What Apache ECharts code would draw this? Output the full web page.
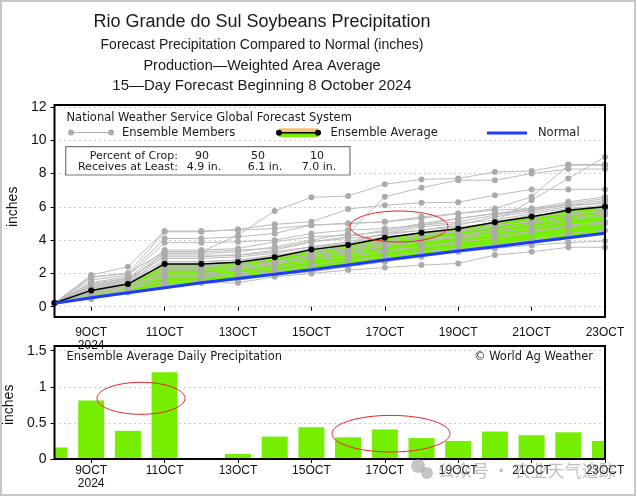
<!DOCTYPE html>
<html><head><meta charset="utf-8">
<script src="https://cdn.jsdelivr.net/npm/echarts/dist/echarts.min.js"></script>
<style>html,body{margin:0;padding:0;background:#fff}#c{width:637px;height:497px}</style>
</head><body><div id="c"></div>
<script>
// ---- data ----
const days = [8,9,10,11,12,13,14,15,16,17,18,19,20,21,22,23];
const tickDays = [9,11,13,15,17,19,21,23];
const ensembleAvg = [0.22,0.98,1.36,2.57,2.57,2.67,2.97,3.43,3.71,4.14,4.45,4.69,5.07,5.40,5.79,6.01];
const normal = [0.20,0.54,0.84,1.14,1.44,1.70,1.95,2.22,2.50,2.80,3.07,3.35,3.60,3.87,4.15,4.41];
const dailyAvg = [0.16,0.81,0.39,1.20,0.01,0.07,0.31,0.44,0.30,0.41,0.29,0.25,0.38,0.33,0.37,0.25];
const members = [
  [0.22,1.80,2.00,3.30,3.30,4.30,5.75,6.57,6.65,7.36,7.65,7.70,8.10,8.15,8.55,8.55],
  [0.22,1.20,1.60,3.20,3.20,3.30,3.60,4.00,4.40,6.60,7.15,7.60,7.60,8.00,8.27,8.27],
  [0.22,1.75,2.00,4.50,4.50,4.65,4.95,5.10,5.87,6.10,6.25,6.27,6.70,7.05,7.05,7.05],
  [0.22,1.90,2.40,4.55,4.55,4.60,4.70,4.90,5.00,5.10,5.30,5.60,5.90,6.60,8.50,8.50],
  [0.22,0.60,0.90,2.30,2.30,2.40,2.60,2.90,3.20,3.40,3.60,3.80,5.10,6.40,7.70,9.00],
  [0.22,1.60,1.90,4.10,4.10,4.20,4.40,4.90,5.00,5.10,5.40,5.60,5.80,5.90,6.10,6.20],
  [0.22,1.45,1.80,3.85,3.85,3.90,4.00,4.40,4.60,4.70,4.90,5.10,5.50,5.80,6.10,6.40],
  [0.22,1.30,1.70,3.40,3.40,3.50,3.90,4.20,4.30,4.50,4.90,5.30,5.60,5.90,6.30,6.60],
  [0.22,1.10,1.50,3.30,3.30,3.40,3.50,3.90,4.10,4.30,4.60,4.90,5.40,5.70,6.00,6.30],
  [0.22,1.00,1.40,3.10,3.10,3.10,3.30,3.60,3.90,4.40,4.60,4.80,5.00,5.40,5.80,5.90],
  [0.22,0.90,1.30,2.90,2.90,3.00,3.20,3.60,3.80,4.20,4.40,4.50,4.90,5.10,5.50,5.70],
  [0.22,0.80,1.20,2.70,2.70,2.80,3.10,3.40,3.60,3.90,4.20,4.60,5.10,5.50,5.60,5.80],
  [0.22,1.20,1.50,2.50,2.50,2.60,2.90,3.30,3.60,4.00,4.30,4.50,4.80,5.20,5.90,6.10],
  [0.22,0.70,1.10,2.20,2.20,2.30,2.60,3.20,3.40,3.70,4.00,4.30,4.60,5.00,5.30,5.60],
  [0.22,1.00,1.30,2.00,2.00,2.20,2.50,3.00,3.30,3.60,3.90,4.20,4.50,4.70,5.20,5.50],
  [0.22,0.90,1.20,1.90,1.90,2.00,2.30,2.80,3.00,3.30,3.60,3.90,4.10,4.50,4.90,5.10],
  [0.22,0.60,1.00,1.80,1.80,1.90,2.10,2.50,2.80,3.00,3.30,3.50,3.70,4.00,4.40,4.60],
  [0.22,0.45,0.85,1.30,1.42,1.44,1.80,2.00,2.20,2.35,2.50,2.60,3.10,3.30,3.57,3.57],
  [0.22,0.80,1.10,1.50,1.55,1.60,1.90,2.10,2.40,2.70,3.00,3.30,3.50,3.70,3.85,3.95],
  [0.22,1.30,1.60,2.70,2.70,2.80,3.00,3.50,3.80,4.40,4.80,5.00,5.20,5.60,5.90,6.00],
  [0.22,1.10,1.40,2.40,2.40,2.50,2.70,3.10,3.50,3.80,4.00,4.20,4.30,4.50,4.80,5.00],
  [0.22,1.40,1.70,3.00,3.00,3.10,3.40,3.90,4.20,4.60,5.00,5.30,5.60,5.80,6.20,6.50]
];

// ---- chart ----
const GREEN = '#76EE00', GREY = '#ababab', BLUE = '#1e3cff';
const FONT = "'Liberation Sans', Arial, sans-serif";
const FONT2 = "'DejaVu Sans', sans-serif";
const pair = arr => days.map((d, i) => [d, arr[i]]);

const chart = echarts.init(document.getElementById('c'), null, {renderer: 'canvas'});

const xLabelFmt = v => v === 9 ? '9OCT\n2024' : v + 'OCT';
function xAxis(gi, offset, margin) {
  return {
    gridIndex: gi, type: 'value', min: 8, max: 23, offset: offset,
    axisLine: {show: false},
    axisTick: {show: true, customValues: tickDays, length: 4, inside: false, lineStyle: {color: '#000', width: 1}},
    axisLabel: {customValues: tickDays, formatter: xLabelFmt, fontSize: 12, lineHeight: 13,
      fontFamily: "'Liberation Sans Narrow', 'Liberation Sans', sans-serif", color: '#111', margin: margin},
    splitLine: {show: false}
  };
}
function yAxis(gi, max, interval) {
  return {
    gridIndex: gi, type: 'value', min: 0, max: max, interval: interval,
    name: 'inches', nameLocation: 'middle', nameGap: 21, nameRotate: 90,
    nameTextStyle: {fontSize: 14, fontFamily: FONT, color: '#111'},
    axisLine: {show: false},
    axisTick: {show: true, length: 4, inside: false, lineStyle: {color: '#000', width: 1}},
    axisLabel: {fontSize: 14, fontFamily: FONT, color: '#111', margin: 8},
    splitLine: {show: true, lineStyle: {color: '#9a9a9a', type: [1, 4], width: 1}}
  };
}

// band segments between normal and ensemble average
const bandData = days.slice(0, -1).map((d, i) =>
  [d, ensembleAvg[i], normal[i], days[i + 1], ensembleAvg[i + 1], normal[i + 1]]);

const series = [];
series.push({type: 'custom', xAxisIndex: 0, yAxisIndex: 0, data: bandData, silent: true, z: 1,
  renderItem: (params, api) => {
    const p1 = api.coord([api.value(0), api.value(1)]);
    const p2 = api.coord([api.value(3), api.value(4)]);
    const p3 = api.coord([api.value(3), api.value(5)]);
    const p4 = api.coord([api.value(0), api.value(2)]);
    return {type: 'polygon', shape: {points: [p1, p2, p3, p4]},
      style: {fill: GREEN, stroke: GREEN, lineWidth: 0.6}};
  }
});
members.forEach(m => series.push({type: 'line', xAxisIndex: 0, yAxisIndex: 0, data: pair(m),
  symbol: 'circle', symbolSize: 6, showSymbol: true,
  lineStyle: {color: '#bcbcbc', width: 1}, itemStyle: {color: GREY}, silent: true, z: 2}));
series.push({type: 'line', xAxisIndex: 0, yAxisIndex: 0, data: pair(ensembleAvg),
  symbol: 'circle', symbolSize: 6, lineStyle: {color: '#000', width: 1.5}, itemStyle: {color: '#000'}, z: 4});
series.push({type: 'line', xAxisIndex: 0, yAxisIndex: 0, data: pair(normal),
  symbol: 'none', lineStyle: {color: BLUE, width: 3}, z: 5});
// daily bars, drawn via the axis scales and clipped to the plot area
series.push({type: 'custom', xAxisIndex: 1, yAxisIndex: 1, data: pair(dailyAvg), z: 2,
  renderItem: (params, api) => {
    const cs = params.coordSys;
    const top = api.coord([api.value(0), api.value(1)]);
    const base = api.coord([api.value(0), 0]);
    const half = 13;
    const x0 = Math.max(cs.x, top[0] - half);
    const x1 = Math.min(cs.x + cs.width, top[0] + half);
    return {type: 'rect', shape: {x: x0, y: top[1], width: Math.max(0, x1 - x0), height: base[1] - top[1]},
      style: {fill: GREEN}};
  }
});

const T = (x, y, text, size, opts) => Object.assign({type: 'text', x: x, y: y, z: 100,
  style: Object.assign({text: text, fontSize: size, fontFamily: FONT, fill: '#1a1a1a',
    textAlign: 'left', textVerticalAlign: 'middle'}, (opts || {}))});

const graphics = [
  {type: 'rect', shape: {x: 1, y: 1, width: 634, height: 494}, style: {fill: 'none', stroke: '#c8c8c8', lineWidth: 2}, z: 100},
  T(262, 22, 'Rio Grande do Sul Soybeans Precipitation', 18, {textAlign: 'center'}),
  T(262, 45, 'Forecast Precipitation Compared to Normal (inches)', 14, {textAlign: 'center'}),
  T(262, 66, 'Production\u2014Weighted Area Average', 14.5, {textAlign: 'center'}),
  T(262, 86, '15\u2014Day Forecast Beginning 8 October 2024', 15, {textAlign: 'center'}),
  {type: 'rect', shape: {x: 54.5, y: 105, width: 550.5, height: 212}, style: {fill: 'none', stroke: '#000', lineWidth: 2}, z: 90},
  {type: 'rect', shape: {x: 54.5, y: 346, width: 550.5, height: 113}, style: {fill: 'none', stroke: '#000', lineWidth: 2}, z: 90},
  T(66.5, 118, 'National Weather Service Global Forecast System', 11.5, {fontFamily: FONT2}),
  {type: 'line', shape: {x1: 70, y1: 132.5, x2: 112, y2: 132.5}, style: {stroke: '#b0b0b0', lineWidth: 1}, z: 100},
  {type: 'circle', shape: {cx: 71, cy: 132.5, r: 3}, style: {fill: GREY}, z: 101},
  {type: 'circle', shape: {cx: 111, cy: 132.5, r: 3}, style: {fill: GREY}, z: 101},
  T(122, 133, 'Ensemble Members', 11.5, {fontFamily: FONT2}),
  {type: 'rect', shape: {x: 279, y: 128.3, width: 39, height: 4.4}, style: {fill: '#f5bf74'}, z: 100},
  {type: 'rect', shape: {x: 279, y: 132.7, width: 39, height: 4.2}, style: {fill: GREEN}, z: 100},
  {type: 'line', shape: {x1: 279, y1: 132.7, x2: 318, y2: 132.7}, style: {stroke: '#000', lineWidth: 1.5}, z: 101},
  {type: 'circle', shape: {cx: 279, cy: 132.7, r: 3}, style: {fill: '#000'}, z: 102},
  {type: 'circle', shape: {cx: 318, cy: 132.7, r: 3}, style: {fill: '#000'}, z: 102},
  T(330.5, 133, 'Ensemble Average', 11.5, {fontFamily: FONT2}),
  {type: 'line', shape: {x1: 487, y1: 133, x2: 527, y2: 133}, style: {stroke: BLUE, lineWidth: 3}, z: 100},
  T(538, 133, 'Normal', 11.5, {fontFamily: FONT2}),
  {type: 'rect', shape: {x: 65.7, y: 146.7, width: 284.3, height: 28.3}, style: {fill: '#fff', stroke: '#777', lineWidth: 1.2}, z: 95},
  T(178, 156, 'Percent of Crop:', 11, {fontFamily: FONT2, textAlign: 'right'}),
  T(202, 156, '90', 11, {fontFamily: FONT2, textAlign: 'center'}),
  T(258, 156, '50', 11, {fontFamily: FONT2, textAlign: 'center'}),
  T(317, 156, '10', 11, {fontFamily: FONT2, textAlign: 'center'}),
  T(178, 167, 'Receives at Least:', 11, {fontFamily: FONT2, textAlign: 'right'}),
  T(204, 167, '4.9 in.', 11, {fontFamily: FONT2, textAlign: 'center'}),
  T(265, 167, '6.1 in.', 11, {fontFamily: FONT2, textAlign: 'center'}),
  T(319, 167, '7.0 in.', 11, {fontFamily: FONT2, textAlign: 'center'}),
  T(66.5, 357.5, 'Ensemble Average Daily Precipitation', 11.5, {fontFamily: FONT2}),
  T(593, 357, '\u00A9 World Ag Weather', 11.5, {fontFamily: FONT2, textAlign: 'right'}),
  {type: 'ellipse', shape: {cx: 399, cy: 226.5, rx: 49, ry: 15.5}, style: {fill: 'none', stroke: '#e8262a', lineWidth: 1}, z: 110},
  {type: 'ellipse', shape: {cx: 141, cy: 398.3, rx: 44, ry: 16}, style: {fill: 'none', stroke: '#e8262a', lineWidth: 1}, z: 110},
  {type: 'ellipse', shape: {cx: 391, cy: 433.7, rx: 59, ry: 18.3}, style: {fill: 'none', stroke: '#e8262a', lineWidth: 1}, z: 110},
  {type: 'circle', shape: {cx: 418, cy: 466, r: 7}, style: {fill: 'rgba(150,150,150,0.55)'}, z: 120},
  {type: 'circle', shape: {cx: 427, cy: 473, r: 6}, style: {fill: 'rgba(150,150,150,0.55)'}, z: 120},
  T(438, 471, '\u516C\u4F17\u53F7 \u00B7 \u519C\u4E1A\u5929\u6C14\u8FFD\u8E2A', 17,
    {fontFamily: "'Noto Sans CJK SC', sans-serif", fill: 'rgba(140,140,140,0.55)'})
];

chart.setOption({
  animation: false,
  backgroundColor: '#fff',
  grid: [
    {left: 54.5, top: 107, width: 550.5, height: 199.7, containLabel: false, outerBoundsMode: 'none'},
    {left: 54.5, top: 350.7, width: 550.5, height: 108.3, containLabel: false, outerBoundsMode: 'none'}
  ],
  xAxis: [xAxis(0, 10.3, 9), xAxis(1, 0, 5)],
  yAxis: [yAxis(0, 12, 2), yAxis(1, 1.5, 0.5)],
  series: series,
  graphic: graphics
});
</script></body></html>
